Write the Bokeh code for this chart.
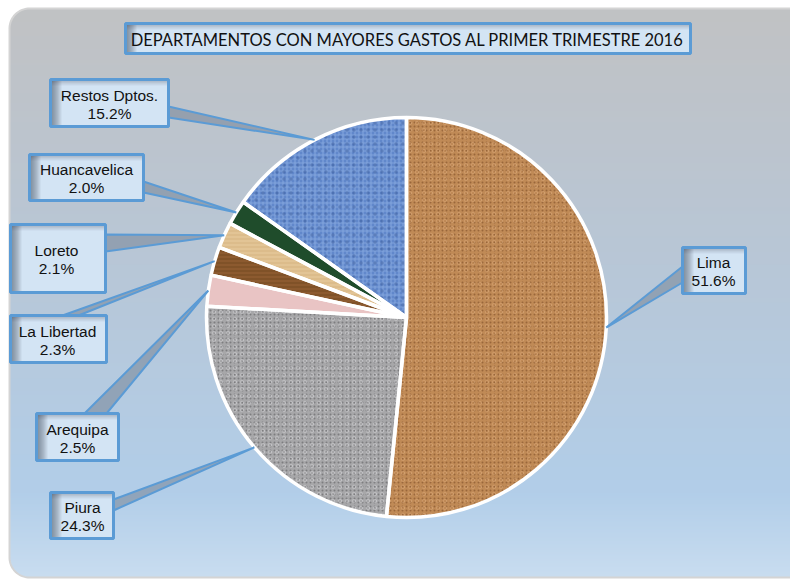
import numpy as np
from bokeh.plotting import figure
from bokeh.models import Range1d, ColumnDataSource
from bokeh.core.properties import value
from bokeh.embed import file_html
from bokeh.resources import INLINE

# ---------------- data ----------------
departments = ["Lima", "Piura", "Arequipa", "La Libertad", "Loreto", "Huancavelica", "Restos Dptos."]
shares = [51.6, 24.3, 2.5, 2.3, 2.1, 2.0, 15.2]
title_text = "DEPARTAMENTOS CON MAYORES GASTOS AL PRIMER TRIMESTRE 2016"

# ---------------- styles ----------------
slice_colors = ["#c08a56", "#a7a7a9", "#e9c4c4", "#8c5a2f", "#e2c495", "#1f4c2b", "#6188cb"]
hatch1 = ["dot", "dot", "blank", "horizontal_line", "horizontal_line", "blank", "cross"]
hatch1_col = ["#6b3c1a", "#4a4a4c", "#ffffff", "#5a3515", "#c7a26c", "#2f6a40", "#a8c3f0"]
hatch2 = ["ring", "ring", "blank", "blank", "blank", "blank", "dot"]
hatch2_col = ["#e0b080", "#dcdcde", "#ffffff", "#ffffff", "#ffffff", "#ffffff", "#2f4f8f"]

W, H = 790, 579


def px(X):
    return X


def py(Y):
    return H - Y


p = figure(width=W, height=H, x_range=Range1d(0, W), y_range=Range1d(0, H),
           output_backend="svg", toolbar_location=None, min_border=0,
           x_axis_location=None, y_axis_location=None)
p.grid.visible = False
p.outline_line_color = None
p.background_fill_color = "white"
p.border_fill_color = "white"

# ---------------- background card (gradient, rounded left corners) ----------------
ys = np.arange(H) + 0.5
xs = np.arange(W) + 0.5
Yimg = H - ys
t = np.clip((Yimg - 8) / 569.0, 0, 1)
st = [0.0, 0.45, 0.85, 1.0]
sc = np.array([[193, 194, 196], [184, 199, 215], [178, 206, 233], [201, 221, 240]], float)
img = np.zeros((H, W, 4), dtype=np.uint8)
for k in range(3):
    img[..., k] = np.interp(t, st, sc[:, k])[:, None]
img[..., 3] = 255
R = 20.0
XX, YY = np.meshgrid(xs, ys)
x0, y0, y1 = 9.0, py(577), py(8)
mask_tl = (XX < x0 + R) & (YY > y1 - R) & (np.hypot(XX - (x0 + R), YY - (y1 - R)) > R)
mask_bl = (XX < x0 + R) & (YY < y0 + R) & (np.hypot(XX - (x0 + R), YY - (y0 + R)) > R)
mask = mask_tl | mask_bl | (XX < x0) | (YY > y1) | (YY < y0)
img[mask, 3] = 0
p.image_rgba(image=[img.view(dtype=np.uint32).reshape(H, W)], x=0, y=0, dw=W, dh=H)

# card border
a1 = np.linspace(np.pi / 2, np.pi, 20)
a2 = np.linspace(np.pi, 3 * np.pi / 2, 20)
border_x = [W + 5] + list(x0 + R + R * np.cos(a1)) + list(x0 + R + R * np.cos(a2)) + [W + 5]
border_y = [y1] + list(y1 - R + R * np.sin(a1)) + list(y0 + R + R * np.sin(a2)) + [y0]
p.line(border_x, border_y, line_color="#d4d4d4", line_width=2)

# ---------------- pie ----------------
cx, cy, rad = px(406), py(317), 200.0
fr = np.array(shares) / np.sum(shares)
cum_end = np.cumsum(fr)
cum_start = cum_end - fr
start_angle = np.pi / 2 - 2 * np.pi * cum_end
end_angle = np.pi / 2 - 2 * np.pi * cum_start
mid_theta = 2 * np.pi * (cum_start + fr / 2)  # clockwise from top

src = ColumnDataSource(dict(start=start_angle, end=end_angle, color=slice_colors,
                            h1=hatch1, h1c=hatch1_col, h2=hatch2, h2c=hatch2_col,
                            name=departments))
p.wedge(x=cx, y=cy, radius=rad, start_angle="start", end_angle="end", direction="anticlock",
        source=src, fill_color="color", line_color=None,
        hatch_pattern="h1", hatch_color="h1c", hatch_scale=4, hatch_weight=1.1, hatch_alpha=0.45)
p.wedge(x=cx, y=cy, radius=rad, start_angle="start", end_angle="end", direction="anticlock",
        source=src, fill_alpha=0, line_color=None,
        hatch_pattern="h2", hatch_color="h2c", hatch_scale=7, hatch_weight=1, hatch_alpha=0.4)
p.wedge(x=cx, y=cy, radius=rad, start_angle="start", end_angle="end", direction="anticlock",
        source=src, fill_alpha=0, line_color="white", line_width=3.5)

# ---------------- labels ----------------
# layout in reference pixel coords: box (left, top, right, bottom), text centre x, tail base points
layout = {
    "Lima": ((682, 247, 745, 293), 713, ((682, 266), (682, 282))),
    "Piura": ((50, 492, 113, 538), 82, ((113, 499), (113, 510))),
    "Arequipa": ((36, 413, 118, 460), 77, ((84, 413), (106, 413))),
    "La Libertad": ((10, 315, 106, 362), 57, ((62, 315), (78, 315))),
    "Loreto": ((10, 224, 105, 292), 56, ((105, 234), (105, 251))),
    "Huancavelica": ((29, 154, 143, 200), 86, ((143, 181), (143, 192))),
    "Restos Dptos.": ((50, 79, 168, 126), 109, ((168, 106), (168, 117))),
}

box_blue = "#5b9bd5"


def draw_box(l, t_, r, b):
    p.quad(left=px(l), right=px(r), top=py(t_), bottom=py(b), fill_color="#d3e4f4", line_color=None)
    # inner shadow (left and top)
    for i in range(9):
        p.quad(left=px(l), right=px(l) + 11 - i * 1.2, top=py(t_), bottom=py(b),
               fill_color="#2c3540", fill_alpha=0.07, line_color=None)
    for i in range(5):
        p.quad(left=px(l), right=px(r), top=py(t_), bottom=py(t_) - 6 + i * 1.2,
               fill_color="#2c3540", fill_alpha=0.06, line_color=None)


for i, name in enumerate(departments):
    (l, t_, r, b), tcx, (b1, b2) = layout[name]
    ax = cx + rad * np.sin(mid_theta[i])
    ay = cy + rad * np.cos(mid_theta[i])
    p.patch([px(b1[0]), ax, px(b2[0])], [py(b1[1]), ay, py(b2[1])],
            fill_color="#7a899b", fill_alpha=0.6, line_color=box_blue, line_width=2)
    draw_box(l, t_, r, b)
    p.quad(left=px(l), right=px(r), top=py(t_), bottom=py(b), fill_alpha=0,
           line_color=box_blue, line_width=3)
    ymid = (t_ + b) / 2
    p.text(x=[px(tcx)], y=[py(ymid - 8)], text=[name], text_font=value("Liberation Sans"),
           text_font_size="15.5px", text_align="center", text_baseline="middle", text_color="#111111")
    p.text(x=[px(tcx)], y=[py(ymid + 10)], text=[f"{shares[i]:.1f}%"], text_font=value("Liberation Sans"),
           text_font_size="15.5px", text_align="center", text_baseline="middle", text_color="#111111")

# ---------------- title ----------------
draw_box(125, 23, 690, 53)
p.quad(left=px(125), right=px(690), top=py(23), bottom=py(53), fill_alpha=0,
       line_color=box_blue, line_width=3)
p.text(x=[px(407)], y=[py(39)], text=[title_text], text_font=value("Lato"),
       text_font_size="16.5px", text_align="center", text_baseline="middle", text_color="#111111")

open("out.html", "w").write(file_html(p, INLINE))
